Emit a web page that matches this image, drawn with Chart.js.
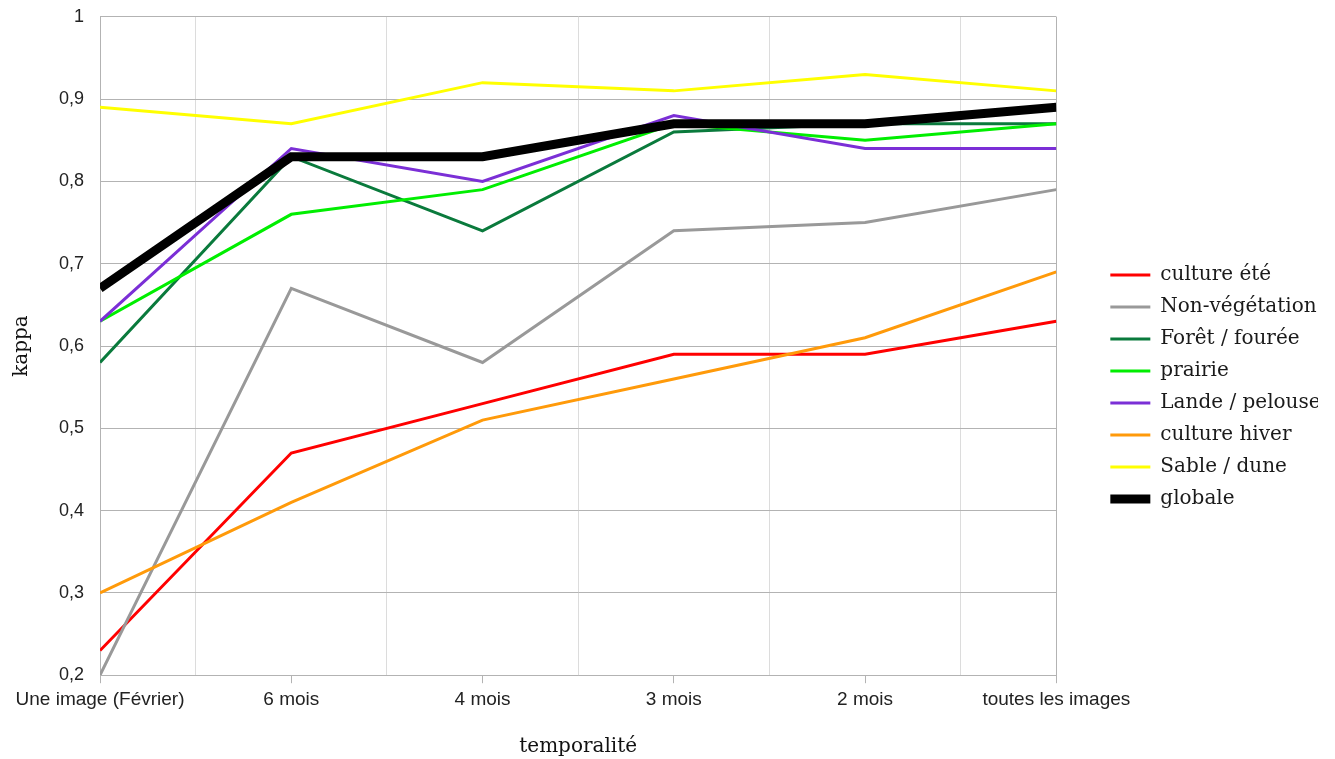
<!DOCTYPE html>
<html>
<head>
<meta charset="utf-8">
<script src="https://cdn.jsdelivr.net/npm/chart.js@4/dist/chart.umd.min.js"></script>
<style>
  body { margin: 0; background: #fff; }
  #wrap { width: 1335px; height: 759px; }
</style>
</head>
<body>
<div id="wrap"><canvas id="line"></canvas></div>
<script>
// categories (x axis)
const temporalite = ["Une image (Février)", "6 mois", "4 mois", "3 mois", "2 mois", "toutes les images"];

// kappa values
const cultureEte     = [0.23, 0.47, 0.53, 0.59, 0.59, 0.63];
const nonVegetation  = [0.20, 0.67, 0.58, 0.74, 0.75, 0.79];
const foretFouree    = [0.58, 0.83, 0.74, 0.86, 0.87, 0.87];
const prairie        = [0.63, 0.76, 0.79, 0.87, 0.85, 0.87];
const landePelouse   = [0.63, 0.84, 0.80, 0.88, 0.84, 0.84];
const cultureHiver   = [0.30, 0.41, 0.51, 0.56, 0.61, 0.69];
const sableDune      = [0.89, 0.87, 0.92, 0.91, 0.93, 0.91];
const globale        = [0.67, 0.83, 0.83, 0.87, 0.87, 0.89];

// y tick labels
const kappaTicks = [0.2, 0.3, 0.4, 0.5, 0.6, 0.7, 0.8, 0.9, 1];

const series = [
  ["culture été", cultureEte, "#ff0000", 3],
  ["Non-végétation", nonVegetation, "#999999", 3],
  ["Forêt / fourée", foretFouree, "#0a7a3c", 3],
  ["prairie", prairie, "#00ee00", 3],
  ["Lande / pelouse", landePelouse, "#7b2fd6", 3],
  ["culture hiver", cultureHiver, "#ff9a0a", 3],
  ["Sable / dune", sableDune, "#ffff00", 3],
  ["globale", globale, "#000000", 9]
];

const isWhole = (v) => Math.abs(v - Math.round(v)) < 1e-6;

let ctx = document.querySelector('#line');

const myChart = new Chart(ctx, {
  type: 'line',
  data: {
    datasets: series.map((s, i) => ({
      label: s[0],
      data: s[1].map((v, k) => ({ x: k, y: v })),
      borderColor: s[2],
      backgroundColor: s[2],
      borderWidth: s[3],
      pointRadius: 0,
      tension: 0,
      order: series.length - 1 - i   // later series drawn on top
    }))
  },
  options: {
    responsive: true,
    maintainAspectRatio: false,
    animation: false,
    layout: { padding: { top: 0, right: 17, bottom: 0, left: 0 } },
    plugins: {
      tooltip: { enabled: false },
      legend: {
        position: 'right',
        // empty title only pushes the items down a little
        title: { display: true, text: '', font: { size: 1 }, padding: { top: 14, bottom: 0 } },
        labels: {
          usePointStyle: true,
          pointStyle: 'line',
          pointStyleWidth: 40,
          padding: 12,
          color: '#1a1a1a',
          font: { family: '"DejaVu Serif"', size: 20 },
          sort: (a, b) => a.datasetIndex - b.datasetIndex
        }
      }
    },
    scales: {
      x: {
        type: 'linear',
        min: 0,
        max: temporalite.length - 1,
        border: { color: '#b3b3b3' },
        grid: {
          color: (c) => {
            const v = c.tick.value;
            if (v === temporalite.length - 1) return '#b3b3b3';
            return isWhole(v) ? 'rgba(0,0,0,0)' : '#dcdcdc';
          },
          tickColor: (c) => isWhole(c.tick.value) ? '#b3b3b3' : 'rgba(0,0,0,0)',
          tickLength: 8
        },
        ticks: {
          stepSize: 0.5,
          autoSkip: false,
          maxRotation: 0,
          padding: 5,
          color: '#222',
          font: { family: '"Liberation Sans"', size: 19 },
          callback: (v) => isWhole(v) ? temporalite[Math.round(v)] : ''
        },
        title: {
          display: true,
          text: 'temporalité',
          color: '#111',
          font: { family: '"DejaVu Serif"', size: 20 },
          padding: { top: 19, bottom: 0 }
        }
      },
      y: {
        min: kappaTicks[0],
        max: kappaTicks[kappaTicks.length - 1],
        border: { color: '#b3b3b3' },
        grid: { color: '#b3b3b3', tickColor: 'rgba(0,0,0,0)', tickLength: 10 },
        afterBuildTicks: (axis) => { axis.ticks = kappaTicks.map((v) => ({ value: v })); },
        ticks: {
          padding: 6,
          color: '#222',
          font: { family: '"Liberation Sans"', size: 18 },
          callback: (v) => String(Math.round(v * 10) / 10).replace('.', ',')
        },
        title: {
          display: true,
          text: 'kappa',
          color: '#111',
          font: { family: '"DejaVu Serif"', size: 20 },
          padding: { top: 10, bottom: 19 }
        }
      },
      // empty spacer between plot and legend
      spacer: {
        position: 'right',
        display: true,
        grid: { display: false },
        border: { display: false },
        ticks: { display: false },
        afterFit: (axis) => { axis.width = 42; }
      }
    }
  }
});
</script>
</body>
</html>
